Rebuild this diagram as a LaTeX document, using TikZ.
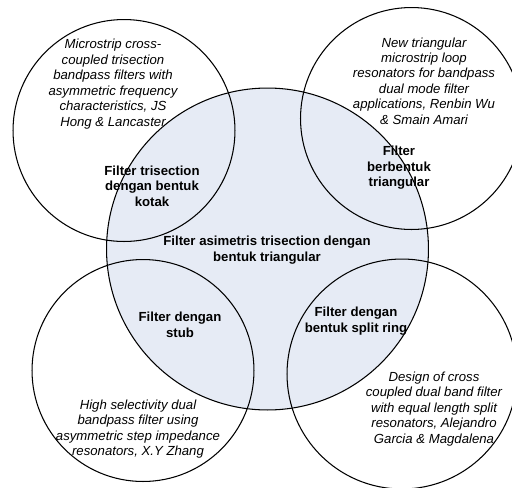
\documentclass[tikz,border=0pt]{standalone}
\usepackage{fontspec}
\setmainfont{Liberation Sans}
\usepackage{xcolor}
\definecolor{paleblue}{RGB}{230,235,245}

\begin{document}
\begin{tikzpicture}[x=0.02cm, y=-0.02cm,
  ring/.style={circle, draw, line width=0.6pt, inner sep=0pt},
  ref/.style={font=\fontsize{7.5}{8.8}\selectfont\itshape, align=center, inner sep=0pt},
  topic/.style={font=\fontsize{7.5}{8.8}\selectfont\bfseries, align=center, inner sep=0pt}]
  \useasboundingbox (0,0) rectangle (512,488);

  \node[ring, fill=paleblue, minimum size=6.44cm] (core) at (267.5,249) {};
  \node[ring, minimum size=4.44cm] (tl) at (124,130.5) {};
  \node[ring, minimum size=4.44cm] (tr) at (411.5,118.5) {};
  \node[ring, minimum size=4.44cm] (bl) at (143,370.5) {};
  \node[ring, minimum size=4.6cm] (br) at (402,374) {};

  \node[ref] (tlref) at (113,84) {Microstrip cross-\\coupled trisection\\bandpass filters with\\asymmetric frequency\\characteristics, JS\\Hong \& Lancaster};
  \node[ref] (trref) at (424,81) {New triangular\\microstrip loop\\resonators for bandpass\\dual mode filter\\applications, Renbin Wu\\\& Smain Amari};
  \node[ref] (blref) at (138,429) {High selectivity dual\\bandpass filter using\\asymmetric step impedance\\resonators, X.Y Zhang};
  \node[ref] (brref) at (434,409) {Design of cross\\coupled dual band filter\\with equal length split\\resonators, Alejandro\\Garcia \& Magdalena};

  \node[topic] (coretxt) at (267,250) {Filter asimetris trisection dengan\\bentuk triangular};
  \node[topic] (tltxt) at (152,186) {Filter trisection\\dengan bentuk\\kotak};
  \node[topic] (trtxt) at (399,168) {Filter\\berbentuk\\triangular};
  \node[topic] (bltxt) at (180,325) {Filter dengan\\stub};
  \node[topic] (brtxt) at (356,321) {Filter dengan\\bentuk split ring};
\end{tikzpicture}
\end{document}
